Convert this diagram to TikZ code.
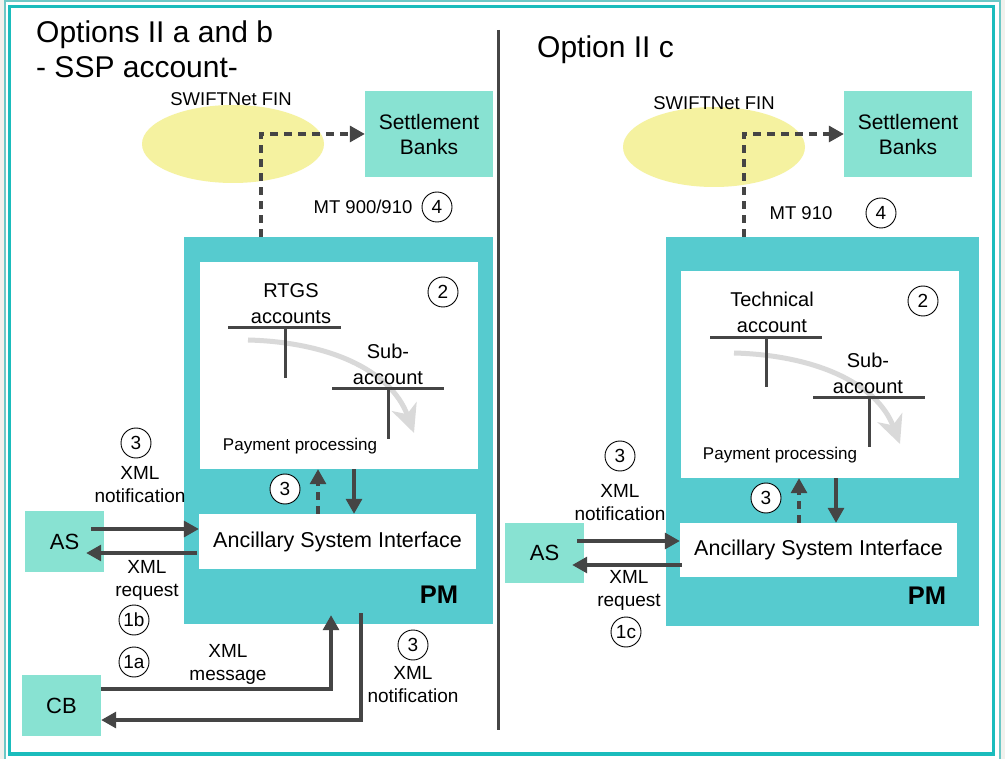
\documentclass[tikz,border=0pt]{standalone}
\usepackage{fontspec}
\setmainfont{Liberation Sans}
\usepackage{tikz}
\usetikzlibrary{arrows.meta,shapes.geometric}
\definecolor{PmTeal}{HTML}{56CBCF}
\definecolor{BoxMint}{HTML}{88E2D2}
\definecolor{NetYellow}{HTML}{F5F2A0}
\definecolor{ArrowGrey}{HTML}{454545}
\definecolor{FlowGrey}{HTML}{D9D9D9}
\definecolor{FrameTeal}{HTML}{1ABCBC}
\definecolor{FrameLight}{HTML}{6CC8C6}
\definecolor{PageGrey}{HTML}{F1F1ED}

\begin{document}
\begin{tikzpicture}[x=1pt, y=-1pt, every node/.style={inner sep=0pt, text=black},
  mint/.style={fill=BoxMint, minimum width=79pt, minimum height=61pt, font=\fontsize{22}{26}\selectfont},
  bankbox/.style={fill=BoxMint, minimum width=128pt, minimum height=86pt, align=center, font=\fontsize{21}{25}\selectfont},
  net/.style={ellipse, fill=NetYellow, minimum width=182pt, minimum height=78pt},
  small/.style={font=\fontsize{18.5}{20}\selectfont},
  lbl/.style={align=center, font=\fontsize{19}{23}\selectfont},
  acct/.style={align=center, font=\fontsize{20}{26}\selectfont},
  numc/.style={circle, draw=black, fill=white, line width=0.9pt, minimum size=30pt, font=\fontsize{19}{19}\selectfont},
  arr/.style={draw=ArrowGrey, line width=3.2pt, -{Triangle[length=15pt,width=16pt]}},
  dasharr/.style={arr, dash pattern=on 8pt off 6pt},
  tline/.style={draw=ArrowGrey, line width=3pt},
  flow/.style={draw=FlowGrey, line width=5pt, -{Stealth[length=28pt,width=26pt,inset=8pt]}}]
\useasboundingbox (0,0) rectangle (1005,759);
% frame
\fill[PageGrey] (0,0) rectangle (1005,759);
\fill[white] (4.5,1.5) rectangle (1000,759);
\draw[FrameLight, line width=2pt] (4.5,760) -- (4.5,1.5) -- (1000,1.5) -- (1000,760);
\draw[FrameTeal, line width=3.5pt] (9.5,6.5) rectangle (993.5,754);
\draw[ArrowGrey, line width=3pt] (498,30) -- (498,730);

% left: options II a and b
\node[anchor=north west, align=left, font=\fontsize{30}{35}\selectfont] (titleL) at (36,21) {Options II a and b\\- SSP account-};
\node[net] (netL) at (233,144) {};
\node[small] (netLlbl) at (231,99.5) {SWIFTNet FIN};
\node[bankbox] (sbL) at (429,134) {Settlement\\Banks};
\node[fill=PmTeal, minimum width=309pt, minimum height=387pt] (pmL) at (338.5,430.5) {};
\node[fill=white, minimum width=278pt, minimum height=207pt] (ppL) at (339,365.5) {};
\node[fill=white, minimum width=277pt, minimum height=55pt, font=\fontsize{21.5}{26}\selectfont] (asiL) at (337.5,541.5) {Ancillary System Interface};
\node[mint] (asL) at (64.5,541.5) {AS};
\node[mint] (cbL) at (61.5,705.5) {CB};
\draw[flow] (248,340) .. controls (325,342) and (390,368) .. (414,433);
\draw[tline] (228,328) -- (341,328) (285,328) -- (285,378);
\draw[tline] (332,389) -- (444,389) (388,389) -- (388,439);
\node[acct] (rtgsL) at (291,304) {RTGS\\accounts};
\node[acct] (subL) at (388,364) {Sub-\\account};
\node[font=\fontsize{17}{18}\selectfont] (payL) at (300,446) {Payment processing};
\node[numc] (twoL) at (443,292) {2};
\node[numc] (threeLi) at (285,489) {3};
\node[font=\bfseries\fontsize{25.5}{28}\selectfont] (pmLlbl) at (439,595) {PM};
\node[small] (mtL) at (363,207) {MT 900/910};
\node[numc] (fourL) at (437,207) {4};
\node[numc] (threeLa) at (136,443) {3};
\node[lbl] (notiL) at (140,485) {XML\\notification};
\node[lbl] (reqL) at (147,580) {XML\\request};
\node[numc] (oneb) at (134,620) {1b};
\node[numc] (onea) at (134,662) {1a};
\node[lbl] (msgL) at (228,664) {XML\\message};
\node[numc] (threeLb) at (413,645) {3};
\node[lbl] (notiLb) at (413,685) {XML\\notification};
\draw[dasharr] ([xshift=-77.5pt]pmL.north) |- (sbL.west);
\draw[dasharr] ([xshift=-19.5pt]asiL.north) -- ([xshift=-19.5pt]asiL.north |- ppL.south);
\draw[arr] ([xshift=16.5pt]asiL.north |- ppL.south) -- ([xshift=16.5pt]asiL.north);
\draw[arr] ([shift={(-13pt,12.5pt)}]asL.east) -- ([yshift=12.5pt]asiL.west);
\draw[arr] ([shift={(-2pt,-11.5pt)}]asiL.west) -- ([shift={(-18pt,-11.5pt)}]asL.east);
\draw[arr] ([yshift=16.5pt]cbL.east) -| ([shift={(-7.5pt,9pt)}]pmL.south);
\draw[arr] ([shift={(22.5pt,11pt)}]pmL.south) |- ([yshift=-14.5pt]cbL.east);

% right: option II c
\node[anchor=base west, font=\fontsize{30}{35}\selectfont] (titleR) at (537,58) {Option II c};
\node[net, minimum height=80pt] (netR) at (714,147) {};
\node[small] (netRlbl) at (714,103.5) {SWIFTNet FIN};
\node[bankbox] (sbR) at (908,134) {Settlement\\Banks};
\node[fill=PmTeal, minimum width=313pt, minimum height=389pt] (pmR) at (822.5,431.5) {};
\node[fill=white, minimum width=278pt, minimum height=207pt] (ppR) at (820,374.5) {};
\node[fill=white, minimum width=277pt, minimum height=54pt, font=\fontsize{21.5}{26}\selectfont] (asiR) at (818.5,550) {Ancillary System Interface};
\node[mint, minimum height=60pt] (asR) at (544.5,553) {AS};
\draw[flow] (734,353) .. controls (811,355) and (876,381) .. (900,444);
\draw[tline] (710,338) -- (822,338) (766,338) -- (766,387);
\draw[tline] (813,398) -- (925,398) (869,398) -- (869,447);
\node[acct] (techR) at (772,312) {Technical\\account};
\node[acct] (subR) at (868,373) {Sub-\\account};
\node[font=\fontsize{17}{18}\selectfont] (payR) at (780,455) {Payment processing};
\node[numc] (twoR) at (923,301) {2};
\node[numc] (threeRi) at (766,498) {3};
\node[font=\bfseries\fontsize{25.5}{28}\selectfont] (pmRlbl) at (927,596) {PM};
\node[small] (mtR) at (801,213) {MT 910};
\node[numc] (fourR) at (881,213) {4};
\node[numc] (threeRa) at (620,456) {3};
\node[lbl] (notiR) at (620,503) {XML\\notification};
\node[lbl] (reqR) at (629,590) {XML\\request};
\node[numc] (onec) at (626,632) {1c};
\draw[dasharr] ([xshift=-78.5pt]pmR.north) |- (sbR.west);
\draw[dasharr] ([xshift=-19.5pt]asiR.north) -- ([xshift=-19.5pt]asiR.north |- ppR.south);
\draw[arr] ([xshift=17.5pt]asiR.north |- ppR.south) -- ([xshift=17.5pt]asiR.north);
\draw[arr] ([shift={(-7pt,12pt)}]asR.east) -- ([yshift=9pt]asiR.west);
\draw[arr] ([shift={(2pt,-15pt)}]asiR.west) -- ([shift={(-12pt,-12pt)}]asR.east);
\end{tikzpicture}
\end{document}
